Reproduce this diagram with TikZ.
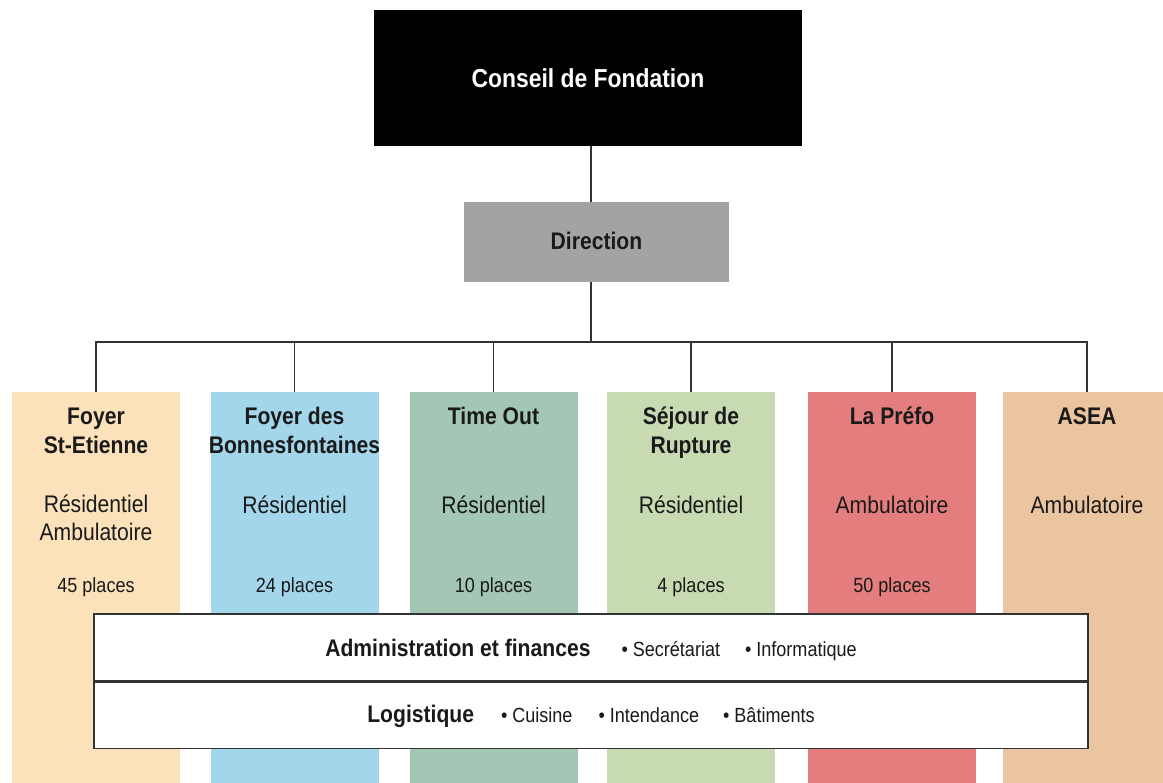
\documentclass[tikz,border=0pt]{standalone}
\usepackage{fontspec}
\setmainfont[FakeStretch=0.88]{Liberation Sans}
\definecolor{cA}{HTML}{FCE2BA}
\definecolor{cB}{HTML}{A3D6EA}
\definecolor{cC}{HTML}{A3C6B5}
\definecolor{cD}{HTML}{C8DAB2}
\definecolor{cE}{HTML}{E47E7E}
\definecolor{cF}{HTML}{EBC5A0}
\definecolor{dirgray}{HTML}{A3A3A3}
\definecolor{ink}{HTML}{1A1A1A}
\definecolor{linec}{HTML}{333333}
\newcommand{\fbig}{\fontsize{24}{28}\selectfont}
\newcommand{\fsmall}{\fontsize{20.5}{24}\selectfont}
\tikzset{
  col/.style={draw=none, minimum width=168pt, minimum height=400pt, inner sep=0pt, anchor=north},
  ttl/.style={anchor=base, inner sep=0pt, text=ink, font=\fbig\bfseries},
  typ/.style={anchor=base, inner sep=0pt, text=ink, font=\fbig},
  plc/.style={anchor=base, inner sep=0pt, text=ink, font=\fsmall},
  conn/.style={draw=linec, line width=1.6pt},
  bar/.style={draw=linec, line width=1.6pt, fill=white, minimum width=994pt, inner sep=0pt, text=ink}
}
\begin{document}
\begin{tikzpicture}[x=1pt,y=-1pt]
\clip (0,0) rectangle (1163,783);
\fill[white] (0,0) rectangle (1163,783);
% top boxes
\node[fill=black, minimum width=428pt, inner sep=0pt, text height=77pt, text depth=59pt, text=white, font=\fontsize{26}{30}\selectfont\bfseries] (conseil) at (588,10) [anchor=north] {Conseil de Fondation};
\node[fill=dirgray, minimum width=265pt, inner sep=0pt, text height=47pt, text depth=33pt, text=ink, font=\fbig\bfseries] (direction) at (596.5,202) [anchor=north] {Direction};
\coordinate (trunk) at (591,342);
% columns
\node[col, fill=cA] (c1) at (96,392) {};
\node[col, fill=cB] (c2) at (294.5,392) {};
\node[col, fill=cC] (c3) at (493.5,392) {};
\node[col, fill=cD] (c4) at (691,392) {};
\node[col, fill=cE] (c5) at (892,392) {};
\node[col, fill=cF] (c6) at (1087,392) {};
% connectors
\draw[conn] (conseil.south -| trunk) -- (direction.north -| trunk);
\draw[conn] (direction.south -| trunk) -- (trunk);
\draw[conn, line cap=rect] (c1.north |- trunk) -- (c6.north |- trunk);
\foreach \c in {c1,c2,c3,c4,c5,c6}{
  \draw[conn] (\c.north |- trunk) -- (\c.north);
}
% column texts
\node[ttl] (t1a) at (96,425) {Foyer};
\node[ttl] (t1b) at (96,454) {St-Etienne};
\node[typ] (y1a) at (96,513) {Résidentiel};
\node[typ] (y1b) at (96,540) {Ambulatoire};
\node[plc] (p1) at (96,593) {45 places};

\node[ttl] (t2a) at (294.5,425) {Foyer des};
\node[ttl] (t2b) at (294.5,454) {Bonnesfontaines};
\node[typ] (y2) at (294.5,514) {Résidentiel};
\node[plc] (p2) at (294.5,593) {24 places};

\node[ttl] (t3) at (493.5,425) {Time Out};
\node[typ] (y3) at (493.5,514) {Résidentiel};
\node[plc] (p3) at (493.5,593) {10 places};

\node[ttl] (t4a) at (691,425) {Séjour de};
\node[ttl] (t4b) at (691,454) {Rupture};
\node[typ] (y4) at (691,514) {Résidentiel};
\node[plc] (p4) at (691,593) {4 places};

\node[ttl] (t5) at (892,425) {La Préfo};
\node[typ] (y5) at (892,514) {Ambulatoire};
\node[plc] (p5) at (892,593) {50 places};

\node[ttl] (t6) at (1087,425) {ASEA};
\node[typ] (y6) at (1087,514) {Ambulatoire};
% shared services bars
\node[bar, anchor=north, text height=43pt, text depth=24pt] (admin) at (591,613)
  {{\fbig\bfseries Administration et finances}\hspace{31pt}{\fsmall •\ Secrétariat\hspace{25pt}•\ Informatique}};
\node[bar, anchor=north, text height=40pt, text depth=26pt] (logi) at (admin.south)
  {{\fbig\bfseries Logistique}\hspace{27pt}{\fsmall •\ Cuisine\hspace{26pt}•\ Intendance\hspace{24pt}•\ Bâtiments}};
\end{tikzpicture}
\end{document}
